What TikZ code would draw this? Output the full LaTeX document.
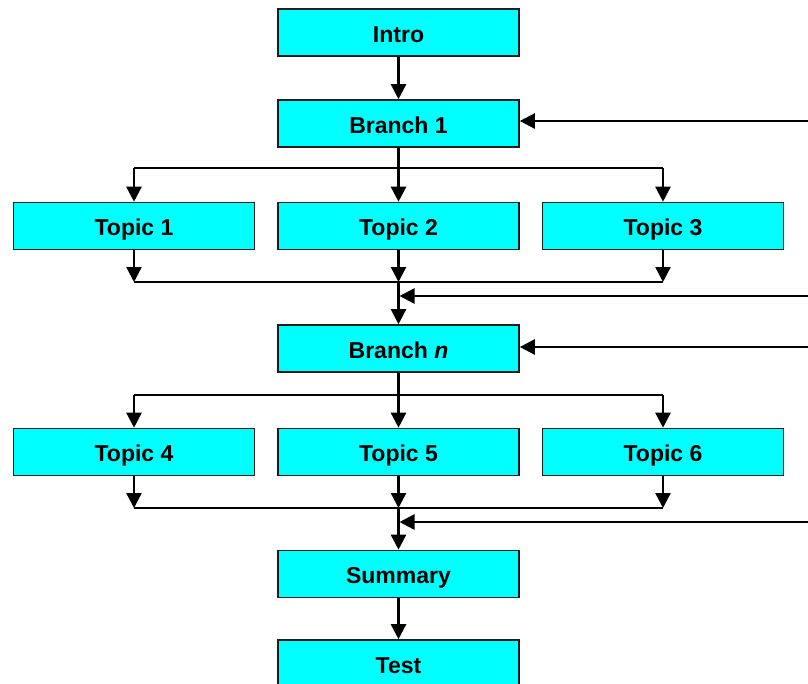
\documentclass[tikz,border=0pt]{standalone}
\usepackage{fontspec}
\setmainfont{Liberation Sans}
\usetikzlibrary{arrows.meta}
\definecolor{boxfill}{RGB}{0,255,255}
\definecolor{boxline}{RGB}{30,30,30}
\begin{document}
\begin{tikzpicture}[x=1pt,y=-1pt,
  box/.style={draw=boxline, line width=1.6pt, fill=boxfill, minimum width=241pt,
    minimum height=47pt, inner sep=0pt, text height=22pt, text depth=2.6pt,
    font=\fontsize{23}{27}\selectfont\bfseries},
  flow/.style={line width=2.4pt, -{Triangle[length=15pt,width=15pt]}},
  link/.style={line width=2.4pt}]
\clip (0,0) rectangle (808,683);
% boxes
\node[box] (intro) at (398.5,32.5) {Intro};
\node[box] (b1)    at (398.5,123.5) {Branch 1};
\node[box] (t1)    at (134,226) {Topic 1};
\node[box] (t2)    at (398.5,226) {Topic 2};
\node[box] (t3)    at (663,226) {Topic 3};
\node[box] (bn)    at (398.5,348.5) {Branch \textit{n}};
\node[box] (t4)    at (134,452) {Topic 4};
\node[box] (t5)    at (398.5,452) {Topic 5};
\node[box] (t6)    at (663,452) {Topic 6};
\node[box] (summ)  at (398.5,574) {Summary};
\node[box] (test)  at (398.5,663.5) {Test};
% junction points
\coordinate (s1)  at (398.5,168);
\coordinate (s1l) at (134,168);
\coordinate (s1r) at (663,168);
\coordinate (m1)  at (398.5,282);
\coordinate (m1l) at (134,282);
\coordinate (m1r) at (663,282);
\coordinate (s2)  at (398.5,395);
\coordinate (s2l) at (134,395);
\coordinate (s2r) at (663,395);
\coordinate (m2)  at (398.5,508);
\coordinate (m2l) at (134,508);
\coordinate (m2r) at (663,508);
% loose ends of the return lines
\coordinate (f1) at (808,121);
\coordinate (f2) at (808,296);
\coordinate (f3) at (808,347);
\coordinate (f4) at (808,522);
% main flow
\draw[flow] (intro) -- (b1);
\draw[link] (b1.south) -- (s1);
\draw[link] (s1l) -- (s1r);
\draw[flow] (s1l) -- (t1.north);
\draw[flow] (s1) -- (t2.north);
\draw[flow] (s1r) -- (t3.north);
\draw[flow] (t1.south) -- (m1l);
\draw[flow] (t2.south) -- (m1);
\draw[flow] (t3.south) -- (m1r);
\draw[link] (m1l) -- (m1r);
\draw[flow] (m1) -- (bn.north);
\draw[link] (bn.south) -- (s2);
\draw[link] (s2l) -- (s2r);
\draw[flow] (s2l) -- (t4.north);
\draw[flow] (s2) -- (t5.north);
\draw[flow] (s2r) -- (t6.north);
\draw[flow] (t4.south) -- (m2l);
\draw[flow] (t5.south) -- (m2);
\draw[flow] (t6.south) -- (m2r);
\draw[link] (m2l) -- (m2r);
\draw[flow] (m2) -- (summ.north);
\draw[flow] (summ) -- (test);
% return lines
\draw[flow] (f1) -- (f1 -| b1.east);
\draw[flow] (f2) -- ([xshift=1pt]f2 -| m1);
\draw[flow] (f3) -- (f3 -| bn.east);
\draw[flow] (f4) -- ([xshift=1pt]f4 -| m2);
\end{tikzpicture}
\end{document}
